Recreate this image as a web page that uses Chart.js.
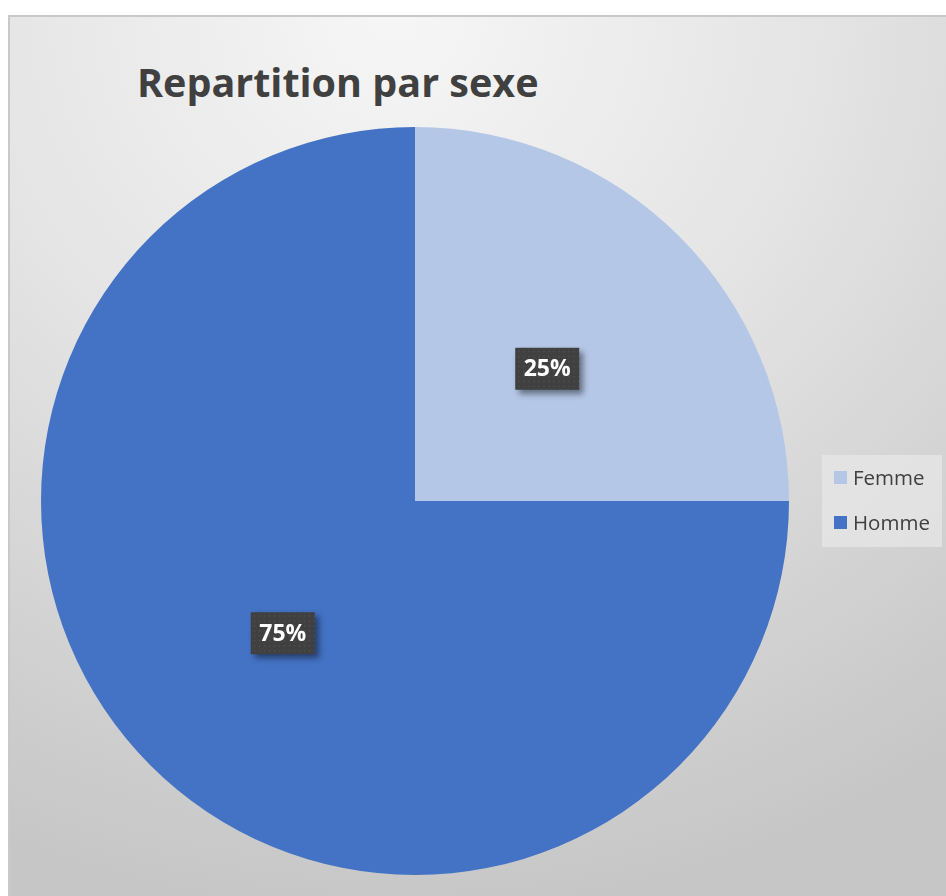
<!DOCTYPE html>
<html lang="fr">
<head>
<meta charset="utf-8">
<script src="https://cdn.jsdelivr.net/npm/chart.js@4.4.1/dist/chart.umd.min.js"></script>
<style>
    html, body { margin: 0; padding: 0; background: #fff; }
    body { width: 946px; height: 896px; position: relative; overflow: hidden; }
    .frame {
        position: absolute; left: 8px; top: 15px; width: 960px; height: 900px;
        border-top: 2px solid #c9c9c9; border-left: 2px solid #c9c9c9;
        background: radial-gradient(ellipse 100% 100% at 40% 0%, #f6f6f6 0%, #e4e4e4 45%, #cecece 85%, #c6c6c6 100%);
    }
    .title {
        position: absolute; left: 137px; top: 55px; margin: 0;
        font: bold 39.5px "Open Sans", sans-serif; color: #404040;
    }
    #chartBox { position: absolute; left: 0; top: 0; width: 946px; height: 896px; }
    .legend {
        position: absolute; left: 822px; top: 455px; width: 120px; height: 92px;
        background: rgba(232, 232, 232, 0.7);
    }
    .legend-item {
        position: absolute; left: 12px; font: 20.5px "Open Sans", sans-serif; color: #404040;
        display: flex; align-items: center;
    }
    .legend-item span.swatch { width: 13px; height: 13px; margin-right: 6px; display: inline-block; }
</style>
</head>
<body>
<div class="frame"></div>
<h1 class="title">Repartition par sexe</h1>
<div id="chartBox"><canvas id="pieChart" width="946" height="896"></canvas></div>
<div class="legend" id="legend"></div>
<script>
// Data
const labels = ['Femme', 'Homme'];
const values = [25, 75];
const colors = ['#b4c7e7', '#4472c4'];

// HTML legend
const legendEl = document.getElementById('legend');
labels.forEach((label, i) => {
    const item = document.createElement('div');
    item.className = 'legend-item';
    item.style.top = (8 + i * 45) + 'px';
    item.innerHTML = `<span class="swatch" style="background:${colors[i]}"></span>${label}`;
    legendEl.appendChild(item);
});

// Dark percentage boxes, like the original data labels
const dataLabelPlugin = {
    id: 'dataLabelBoxes',
    afterDatasetsDraw(chart) {
        const ctx = chart.ctx;
        const meta = chart.getDatasetMeta(0);
        const total = values.reduce((a, b) => a + b, 0);
        meta.data.forEach((arc, i) => {
            const pos = arc.tooltipPosition();
            const text = Math.round(values[i] / total * 100) + '%';
            const w = 64, h = 42;
            const x = pos.x - w / 2, y = pos.y - h / 2;
            ctx.save();
            ctx.shadowColor = 'rgba(0,0,0,0.45)';
            ctx.shadowBlur = 6;
            ctx.shadowOffsetX = 4;
            ctx.shadowOffsetY = 4;
            ctx.fillStyle = '#404040';
            ctx.fillRect(x, y, w, h);
            ctx.restore();
            // dotted texture
            ctx.save();
            ctx.fillStyle = 'rgba(255,255,255,0.08)';
            for (let dx = 3; dx < w; dx += 5) {
                for (let dy = 3; dy < h; dy += 5) {
                    ctx.fillRect(x + dx, y + dy, 1.5, 1.5);
                }
            }
            ctx.fillStyle = '#ffffff';
            ctx.font = 'bold 23px "Open Sans", sans-serif';
            ctx.textAlign = 'center';
            ctx.textBaseline = 'middle';
            ctx.fillText(text, pos.x, pos.y + 1);
            ctx.restore();
        });
    }
};

const ctx = document.getElementById('pieChart').getContext('2d');
new Chart(ctx, {
    type: 'pie',
    data: {
        labels: labels,
        datasets: [{
            data: values,
            backgroundColor: colors,
            borderWidth: 0
        }]
    },
    options: {
        responsive: false,
        animation: false,
        layout: {
            padding: { left: 41, top: 127, right: 157, bottom: 21 }
        },
        plugins: {
            legend: { display: false },
            tooltip: { enabled: false },
            title: { display: false }
        }
    },
    plugins: [dataLabelPlugin]
});
</script>
</body>
</html>
